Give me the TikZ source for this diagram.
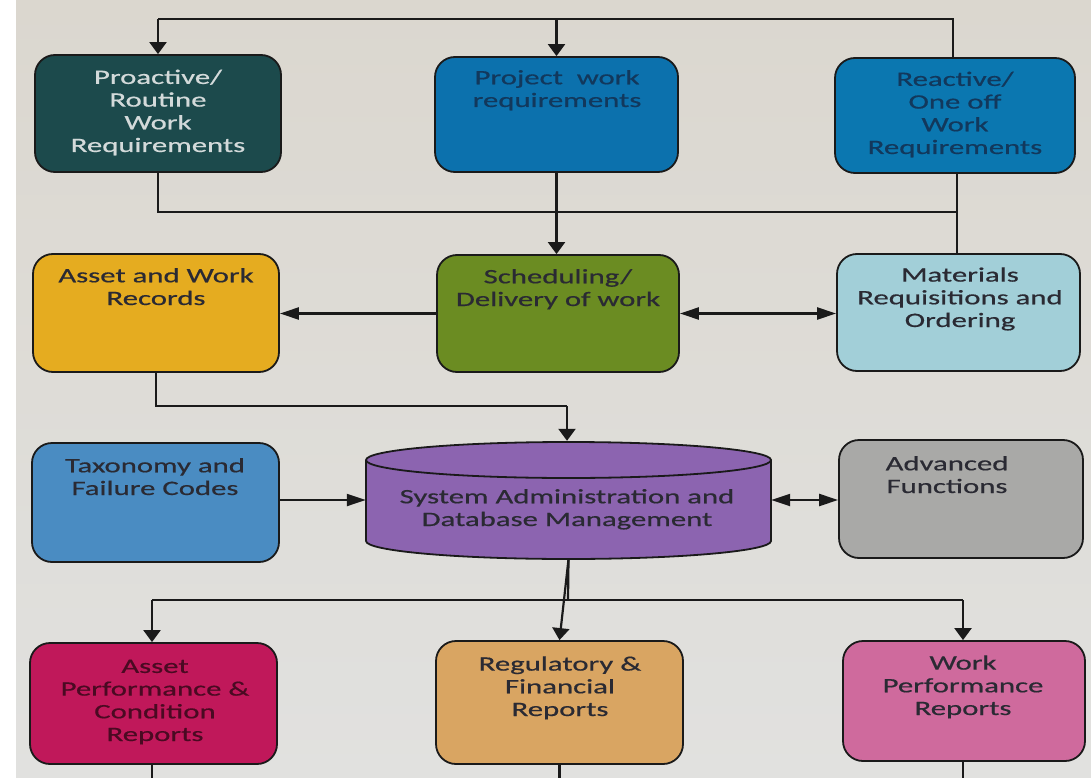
\documentclass[tikz,border=0pt]{standalone}
\usepackage{fontspec}
\setmainfont{Carlito}[FakeStretch=1.5,FakeBold=0.6]
\usetikzlibrary{arrows.meta,calc}

% paper and lines
\definecolor{paperTop}{HTML}{DBD7CF}
\definecolor{paperBot}{HTML}{E1E1DF}
\definecolor{linec}{HTML}{1A1A1A}
% box fills
\definecolor{cPro}{HTML}{1C4A4C}
\definecolor{cPrj}{HTML}{0C71AD}
\definecolor{cRea}{HTML}{0B77B0}
\definecolor{cAwr}{HTML}{E5AC20}
\definecolor{cSch}{HTML}{6B8C22}
\definecolor{cMat}{HTML}{A2CFD8}
\definecolor{cTax}{HTML}{4A8CC2}
\definecolor{cDb}{HTML}{8C64B0}
\definecolor{cAdv}{HTML}{A9A9A7}
\definecolor{cApr}{HTML}{C0185A}
\definecolor{cReg}{HTML}{D9A562}
\definecolor{cWpr}{HTML}{CF6A9D}
% text colours
\definecolor{tLight}{HTML}{D3DADA}
\definecolor{tNavy}{HTML}{12385C}
\definecolor{tDark}{HTML}{2A2A33}
\definecolor{tMaroon}{HTML}{4A0A22}

\begin{document}
\begin{tikzpicture}[x=1pt,y=-1pt,
  box/.style={draw=linec, line width=1.8pt, rounded corners=20pt, inner sep=0pt},
  % labels are placed by the baseline of their last line
  lbl/.style={align=center, font=\fontsize{20.5}{22.7}\selectfont, inner sep=0pt, anchor=base, text=tDark},
  link/.style={draw=linec, line width=2.2pt},
  vtip/.style={-{Triangle[length=12pt,width=17pt]}},
  htip/.style={-{Triangle[length=19pt,width=12pt]}},
  dtip/.style={{Triangle[length=19pt,width=12pt]}-{Triangle[length=19pt,width=12pt]}}
]
\useasboundingbox (0,0) rectangle (1091,778);
\fill[top color=paperTop, bottom color=paperBot] (0,0) rectangle (1091,778);
\fill[white] (0,0) rectangle (16,778);

% ---- row 1: work requirements
\node[box, fill=cPro, minimum width=246, minimum height=117] (pro) at (158,113.5) {};
\node[lbl, text=tLight] (proT) at (158,152) {Proactive/\\Routine\\Work\\Requirements};
\node[box, fill=cPrj, minimum width=243, minimum height=115] (prj) at (556.5,114.5) {};
\node[lbl, text=tNavy] (prjT) at (557,107) {Project\ \ work\\requirements};
\node[box, fill=cRea, minimum width=240, minimum height=115] (rea) at (955,115.5) {};
\node[lbl, text=tNavy] (reaT) at (955,154) {Reactive/\\One off\\Work\\Requirements};

% ---- row 2
\node[box, fill=cAwr, minimum width=246, minimum height=118] (awr) at (156,313) {};
\node[lbl] (awrT) at (156,305) {Asset and Work\\Records};
\node[box, fill=cSch, minimum width=242, minimum height=117] (sch) at (558,313.5) {};
\node[lbl] (schT) at (558,306) {Scheduling/\\Delivery of work};
\node[box, fill=cMat, minimum width=243, minimum height=117] (mat) at (958.5,312.5) {};
\node[lbl] (matT) at (960,327) {Materials\\Requisitions and\\Ordering};

% ---- row 3
\node[box, fill=cTax, minimum width=247, minimum height=119] (tax) at (155.5,502.5) {};
\node[lbl] (taxT) at (155,495) {Taxonomy and\\Failure Codes};
\node[inner sep=0pt, minimum width=405, minimum height=118] (db) at (568.5,500) {};
\filldraw[fill=cDb, draw=linec, line width=1.8pt]
  (366,460) -- (366,541)
  arc[start angle=180, end angle=0, x radius=202.5, y radius=18]
  -- (771,460)
  arc[start angle=360, end angle=180, x radius=202.5, y radius=18] -- cycle;
\draw[linec, line width=1.8pt] (366,460) arc[start angle=180, end angle=0, x radius=202.5, y radius=18];
\node[lbl] (dbT) at (567,526) {System Administration and\\Database Management};
\node[box, fill=cAdv, minimum width=244, minimum height=118] (adv) at (961,499) {};
\node[lbl] (advT) at (947,493) {Advanced\\Functions};

% ---- row 4: reports
\node[box, fill=cApr, minimum width=247, minimum height=121] (apr) at (153.5,703.5) {};
\node[lbl, text=tMaroon] (aprT) at (155,741) {Asset\\Performance \&\\Condition\\Reports};
\node[box, fill=cReg, minimum width=247, minimum height=123] (reg) at (559.5,702.5) {};
\node[lbl] (regT) at (560,716) {Regulatory \&\\Financial\\Reports};
\node[box, fill=cWpr, minimum width=242, minimum height=120] (wpr) at (964,701) {};
\node[lbl] (wprT) at (963,715) {Work\\Performance\\Reports};

% ---- feed from the top into row 1
\coordinate (topL) at (158,19);
\coordinate (topR) at (953,19);
\draw[link] (rea.north -| topR) -- (topR) -- (topL);
\draw[link, vtip] (topL) -- (pro.north);
\draw[link, vtip] (topL -| prj.north) -- (prj.north);

% ---- row 1 into row 2
\coordinate (mid) at (957,212);
\draw[link] (pro.south) |- (mid);
\draw[link] (rea.south -| mid) -- (mat.north -| mid);
\draw[link, vtip] (prj.south) -- (sch.north -| prj.south);

% ---- row 2 links
\draw[link, htip] (sch.west) -- (awr.east |- sch.west);
\draw[link, dtip] (sch.east) -- (mat.west |- sch.east);
\coordinate (recJ) at (567,406);
\draw[link] (awr.south) |- (recJ);
\draw[link, vtip] (recJ) -- (db.north -| recJ);

% ---- row 3 links
\draw[link, htip] (tax.east |- db.west) -- (db.west);
\draw[link, dtip] (db.east) -- (adv.west |- db.east);

% ---- database out to the reports
\coordinate (repJ) at (568,600);
\coordinate (repL) at (152,600);
\coordinate (repR) at (963,600);
\draw[link] (db.south) -- (repJ);
\draw[link] (repL) -- (repR);
\draw[link, vtip] (repL) -- (apr.north -| repL);
\draw[link, vtip] (repR) -- (wpr.north -| repR);
\draw[link, vtip] (db.south) -- (reg.north);

% ---- lines running on below the reports
\coordinate (edge) at (0,778);
\draw[link] (apr.south -| repL) -- (edge -| repL);
\draw[link] (reg.south) -- (edge -| reg.south);
\draw[link] (wpr.south -| repR) -- (edge -| repR);
\end{tikzpicture}
\end{document}
